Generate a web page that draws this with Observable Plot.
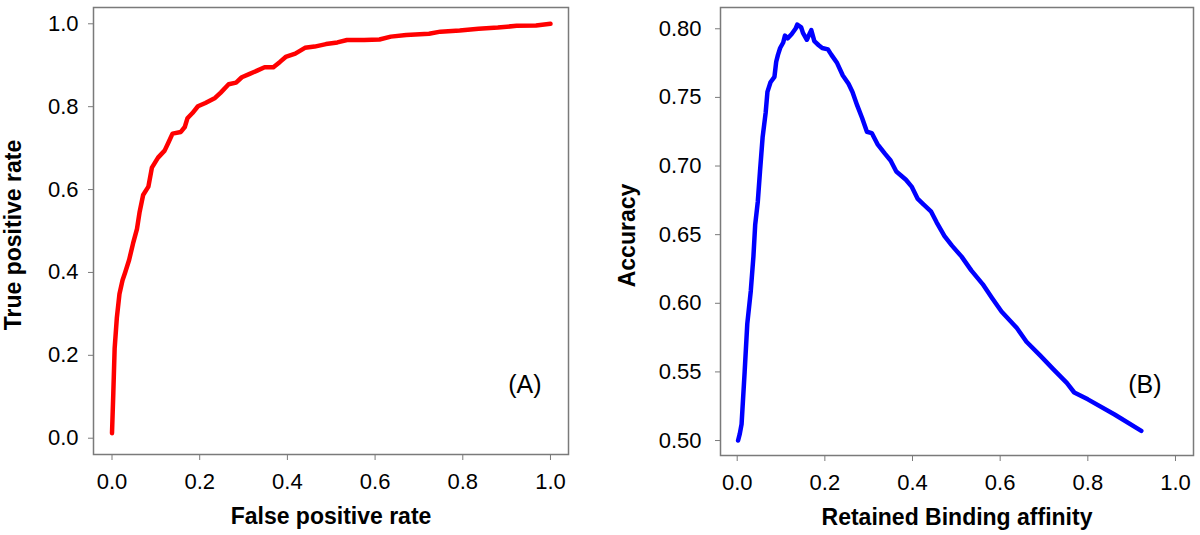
<!DOCTYPE html>
<html>
<head>
<meta charset="utf-8">
<script src="https://cdn.jsdelivr.net/npm/d3@7"></script>
<script src="https://cdn.jsdelivr.net/npm/@observablehq/plot@0.6"></script>
<style>
  html, body { margin: 0; padding: 0; background: #fff; }
  #wrap { display: flex; flex-direction: row; width: 1200px; height: 535px; }
  svg { display: block; }
</style>
</head>
<body>
<div id="wrap"></div>
<script>
// Panel A: ROC curve
const rocFPR = [0, 0.003, 0.006, 0.011, 0.017, 0.024, 0.030, 0.039, 0.048, 0.057, 0.063, 0.071, 0.083, 0.091, 0.105, 0.120, 0.129, 0.138, 0.157, 0.166, 0.172, 0.183, 0.196, 0.213, 0.235, 0.248, 0.266, 0.283, 0.296, 0.314, 0.331, 0.348, 0.368, 0.383, 0.396, 0.418, 0.440, 0.462, 0.488, 0.514, 0.536, 0.575, 0.610, 0.636, 0.671, 0.723, 0.749, 0.793, 0.836, 0.880, 0.923, 0.967, 1.0];
const rocTPR = [0.012, 0.109, 0.216, 0.290, 0.348, 0.381, 0.400, 0.430, 0.470, 0.505, 0.546, 0.587, 0.607, 0.653, 0.677, 0.694, 0.714, 0.735, 0.739, 0.751, 0.772, 0.784, 0.801, 0.809, 0.821, 0.834, 0.854, 0.858, 0.871, 0.879, 0.887, 0.895, 0.895, 0.908, 0.920, 0.928, 0.942, 0.945, 0.951, 0.955, 0.961, 0.961, 0.962, 0.969, 0.973, 0.976, 0.981, 0.984, 0.988, 0.991, 0.995, 0.996, 1.0];

// Panel B: accuracy vs retained binding affinity
const accX = [0.002, 0.006, 0.010, 0.017, 0.023, 0.031, 0.037, 0.041, 0.047, 0.052, 0.058, 0.065, 0.069, 0.076, 0.085, 0.089, 0.093, 0.098, 0.105, 0.109, 0.115, 0.124, 0.133, 0.137, 0.146, 0.150, 0.159, 0.166, 0.169, 0.176, 0.186, 0.194, 0.207, 0.215, 0.228, 0.241, 0.254, 0.263, 0.274, 0.285, 0.296, 0.307, 0.320, 0.337, 0.350, 0.363, 0.385, 0.398, 0.412, 0.425, 0.442, 0.455, 0.473, 0.490, 0.512, 0.534, 0.560, 0.581, 0.603, 0.638, 0.660, 0.691, 0.721, 0.752, 0.769, 0.800, 0.861, 0.922];
const accY = [0.500, 0.505, 0.512, 0.550, 0.585, 0.609, 0.634, 0.657, 0.674, 0.696, 0.721, 0.739, 0.754, 0.761, 0.765, 0.776, 0.781, 0.786, 0.790, 0.795, 0.793, 0.796, 0.800, 0.803, 0.801, 0.797, 0.792, 0.797, 0.799, 0.791, 0.788, 0.786, 0.785, 0.781, 0.775, 0.766, 0.760, 0.754, 0.744, 0.735, 0.725, 0.724, 0.716, 0.709, 0.704, 0.696, 0.690, 0.685, 0.676, 0.672, 0.667, 0.659, 0.649, 0.642, 0.634, 0.624, 0.614, 0.604, 0.594, 0.582, 0.572, 0.562, 0.552, 0.542, 0.535, 0.530, 0.519, 0.507];

const xTicks = [0, 0.2, 0.4, 0.6, 0.8, 1.0];
const yTicksA = [0, 0.2, 0.4, 0.6, 0.8, 1.0];
const yTicksB = [0.50, 0.55, 0.60, 0.65, 0.70, 0.75, 0.80];
const titlesA = {x: "False positive rate", y: "True positive rate", tag: "(A)"};
const titlesB = {x: "Retained Binding affinity", y: "Accuracy", tag: "(B)"};

const rocData = rocFPR.map((x, i) => ({x, y: rocTPR[i]}));
const accData = accX.map((x, i) => ({x, y: accY[i]}));

const FONT = "'Liberation Sans', Arial, Helvetica, sans-serif";
const GRAY = "#7a7a7a";

function panel({data, color, xDomain, yDomain, yTicks, yFmt, titles, m, yTitleDx, tagDx, tagDy, yPad}) {
  return Plot.plot({
    width: 600,
    height: 535,
    marginLeft: m.left,
    marginRight: m.right,
    marginTop: m.top,
    marginBottom: m.bottom,
    style: {fontFamily: FONT, fontSize: "22px", color: "#000", background: "#fff"},
    x: {domain: xDomain},
    y: {domain: yDomain},
    marks: [
      Plot.frame({stroke: GRAY, strokeWidth: 1.5}),
      Plot.axisX(xTicks, {tickFormat: d3.format(".1f"), tickSize: 6, tickPadding: 13, stroke: GRAY, fill: "#000", fontSize: 22, label: null}),
      Plot.axisY(yTicks, {tickFormat: d3.format(yFmt), tickSize: 5, tickPadding: yPad, stroke: GRAY, fill: "#000", fontSize: 22, label: null}),
      Plot.line(data, {x: "x", y: "y", stroke: color, strokeWidth: 4.5, strokeLinejoin: "round", strokeLinecap: "round"}),
      Plot.text([titles.x], {text: d => d, frameAnchor: "bottom", lineAnchor: "middle", dy: 62, fontWeight: "bold", fontSize: 23, fill: "#000"}),
      Plot.text([titles.y], {text: d => d, frameAnchor: "left", rotate: -90, lineAnchor: "middle", textAnchor: "middle", dx: yTitleDx, dy: 4, fontWeight: "bold", fontSize: 23, fill: "#000"}),
      Plot.text([titles.tag], {text: d => d, frameAnchor: "bottom-right", textAnchor: "end", lineAnchor: "bottom", dx: tagDx, dy: tagDy, fontSize: 25, fill: "#000"})
    ]
  });
}

const wrap = document.getElementById("wrap");
wrap.appendChild(panel({
  data: rocData, color: "#ff0000",
  xDomain: [-0.0422, 1.0411], yDomain: [-0.0393, 1.0393],
  yTicks: yTicksA, yFmt: ".1f", titles: titlesA,
  m: {left: 93, right: 32, top: 7, bottom: 81},
  yTitleDx: -80, tagDx: -27, tagDy: -62, yPad: 10
}));
wrap.appendChild(panel({
  data: accData, color: "#0000ff",
  xDomain: [-0.0381, 1.0411], yDomain: [0.4891, 0.8155],
  yTicks: yTicksB, yFmt: ".2f", titles: titlesB,
  m: {left: 120, right: 7, top: 7, bottom: 80},
  yTitleDx: -93, tagDx: -32, tagDy: -63, yPad: 14
}));
</script>
</body>
</html>
